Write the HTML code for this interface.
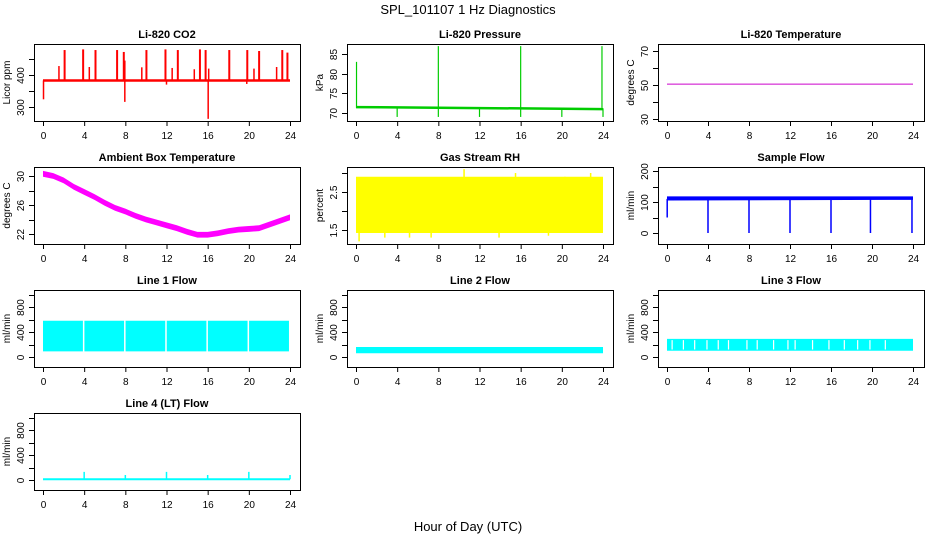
<!DOCTYPE html>
<html><head><meta charset="utf-8"><style>
body{margin:0;background:#fff}
svg{display:block;font-family:"Liberation Sans",Arial,sans-serif}
</style></head><body>
<svg id="c" width="936" height="540" viewBox="0 0 936 540">
<text x="468" y="14" text-anchor="middle" font-size="13">SPL_101107  1 Hz Diagnostics</text>
<text x="468" y="531" text-anchor="middle" font-size="13">Hour of Day (UTC)</text>
</svg>
<script>
// ---- data arrays ----
const hourTicks=[0,4,8,12,16,20,24];
const co2Base=383;
const co2SpikeHours=[2.1,3.9,5.1,7.2,7.85,10.05,11.9,13.1,15.25,15.8,18.1,19.85,21.0,23.25,23.75];
const co2SpikePeaks=[478,480,478,478,472,478,480,478,480,478,478,478,475,478,470];
const co2MidHours=[1.55,4.5,9.6,12.55,14.7,20.5,22.7,7.95,16.1];
const co2MidPeaks=[428,425,424,422,418,420,425,445,420];
const co2DipHours=[0.05,7.95,16.05,12.0,19.8];
const co2DipValues=[324,316,263,370,372];
const presHours=[0,24];
const presBase=[71.5,71.0];
const presUpHours=[0.05,8,16,23.9];
const presUpPeaks=[83,87,87,87];
const presDownHours=[4,8,12,16,20,24];
const presDownValues=[69,69,69,69,69,69];
const tempLevel=50.5;
const ambHours=[0,1,2,3,4,5,6,7,8,9,10,11,12,13,14,15,16,17,18,19,20,21,22,23,24];
const ambTemp=[30.3,30.0,29.4,28.5,27.8,27.1,26.3,25.6,25.1,24.5,24.0,23.6,23.2,22.8,22.3,21.9,21.9,22.1,22.4,22.6,22.7,22.8,23.3,23.8,24.3];
const rhLow=1.42, rhHigh=2.9;
const rhSpikeHours=[0.3,2.8,5.2,7.3,10.5,13.9,15.5,18.7,20.3,22.8];
const rhSpikeValues=[1.2,1.3,1.3,1.3,3.1,1.3,3.0,1.35,2.9,3.0];
const flowHours=[0,24];
const sampleLow=[105,107], sampleHigh=[118,118];
const sampleDropHours=[4,8,12,16,19.85,23.9];
const line1Low=90, line1High=580;
const line1GapHours=[3.95,7.95,11.95,15.95,19.95];
const line2Low=60, line2High=160;
const line3Low=100, line3High=290;
const line3GapHours=[0.5,1.6,2.7,3.9,5.0,6.0,7.8,8.8,10.4,11.8,12.5,14.2,15.8,17.3,18.6,19.8,21.3];
const line4Base=12;
const line4SpikeHours=[4,8,12,16,20,24];
const line4SpikeValues=[130,80,130,80,130,80];

// ---- layout ----
const NS="http://www.w3.org/2000/svg";
const svg=document.getElementById('c');
const cols=[{bx:34,t0:43,t1:290},{bx:347,t0:356,t1:603},{bx:658,t0:667,t1:913}];
const rows=[44,167,290,413];
const BW=266,BH=77;
function el(tag,attrs,parent){const e=document.createElementNS(NS,tag);for(const k in attrs)e.setAttribute(k,attrs[k]);(parent||svg).appendChild(e);return e;}
let clipId=0;
function panel(ci,ri,title,ylab,v0,o0,v1,o1,ticks,labels,color,name){
  const c=cols[ci],top=rows[ri];
  const g=el('g',{});
  
  
  const xs=h=>c.t0+(c.t1-c.t0)*h/24;
  const ys=v=>top+o0+(v-v0)*(o1-o0)/(v1-v0);
  const t=el('text',{x:c.bx+BW/2,y:top-6,'text-anchor':'middle','font-size':11,'font-weight':'bold'},g);
  t.textContent=title;
  
  
  const id='cl'+(clipId++);
  const cp=el('clipPath',{id:id},g);el('rect',{x:c.bx,y:top,width:BW,height:BH},cp);
  const plot=el('g',{'clip-path':'url(#'+id+')'},g);
  
  
  // x axis
  const xa=el('g',{stroke:'#000','stroke-width':1},g);
  
  
  el('line',{x1:xs(0),x2:xs(24),y1:top+BH+0.5,y2:top+BH+0.5},xa);
  hourTicks.forEach(h=>{
    el('line',{x1:xs(h)+0.5,x2:xs(h)+0.5,y1:top+BH,y2:top+BH+5},xa);
    const tl=el('text',{x:xs(h)+0.5,y:top+BH+18,'text-anchor':'middle','font-size':10,stroke:'none'},g);
    tl.textContent=h;
    
    
  });
  // y axis
  const ya=el('g',{stroke:'#000'},g);
  
  
  el('line',{x1:c.bx+0.5,x2:c.bx+0.5,y1:ys(ticks[0]),y2:ys(ticks[ticks.length-1])},ya);
  ticks.forEach((v,i)=>{
    const y=Math.round(ys(v))+0.5;
    el('line',{x1:c.bx-5,x2:c.bx,y1:y,y2:y},ya);
    if(labels[i]){const tl=el('text',{x:0,y:0,'text-anchor':'middle','font-size':10,transform:`translate(${c.bx-10},${y}) rotate(-90)`},g);
      tl.textContent=labels[i];
      
      }
  });
  const yl=el('text',{x:0,y:0,'text-anchor':'middle','font-size':10,transform:`translate(${c.bx-24},${top+BH/2}) rotate(-90)`},g);
  yl.textContent=ylab;
  
  
  el('rect',{x:c.bx+0.5,y:top+0.5,width:BW,height:BH,fill:'none',stroke:'#000'},g);
  return {plot,xs,ys,color};
}
function vline(p,h,a,b,w){el('line',{x1:p.xs(h),x2:p.xs(h),y1:p.ys(a),y2:p.ys(b),stroke:p.color,'stroke-width':w||1.5},p.plot);}
function band(p,hs,lo,hi){
  let pts=hs.map((h,i)=>p.xs(h)+','+p.ys(hi[i]));
  for(let i=hs.length-1;i>=0;i--)pts.push(p.xs(hs[i])+','+p.ys(lo[i]));
  el('polygon',{points:pts.join(' '),fill:p.color},p.plot);
}

// CO2
let p=panel(0,0,'Li-820 CO2','Licor ppm',300,63,400,31,[300,350,400,450],['300','','400',''],'#ff0000','co2');
el('line',{x1:p.xs(0),x2:p.xs(24),y1:p.ys(co2Base),y2:p.ys(co2Base),stroke:p.color,'stroke-width':2.5},p.plot);
co2SpikeHours.forEach((h,i)=>vline(p,h,co2Base,co2SpikePeaks[i],2));
co2MidHours.forEach((h,i)=>vline(p,h,co2Base,co2MidPeaks[i],1.5));
co2DipHours.forEach((h,i)=>vline(p,h,co2Base,co2DipValues[i],1.5));
// Pressure
p=panel(1,0,'Li-820 Pressure','kPa',70,69,85,10,[70,75,80,85],['70','75','80','85'],'#00cc00','pressure');
el('line',{x1:p.xs(presHours[0]),x2:p.xs(presHours[1]),y1:p.ys(presBase[0]),y2:p.ys(presBase[1]),stroke:p.color,'stroke-width':2.5},p.plot);
presUpHours.forEach((h,i)=>vline(p,h,71.3,presUpPeaks[i],1.2));
presDownHours.forEach((h,i)=>vline(p,h,71.2,presDownValues[i],1.2));
// Temperature
p=panel(2,0,'Li-820 Temperature','degrees C',30,75,70,7,[30,40,50,60,70],['30','','50','','70'],'#cc00cc','li820-temp');
el('line',{x1:p.xs(0),x2:p.xs(24),y1:p.ys(tempLevel),y2:p.ys(tempLevel),stroke:'#cc00cc','stroke-width':1},p.plot);
// Ambient
p=panel(0,1,'Ambient Box Temperature','degrees C',30,9,22,67,[22,24,26,28,30],['22','','26','','30'],'#ff00ff','ambient-temp');
band(p,ambHours,ambTemp.map(v=>v-0.4),ambTemp.map(v=>v+0.4));
// RH
p=panel(1,1,'Gas Stream RH','percent',2.5,25,1.5,63,[1.5,2,2.5,3],['1.5','','2.5',''],'#ffff00','gas-rh');
band(p,flowHours,[rhLow,rhLow],[rhHigh,rhHigh]);
rhSpikeHours.forEach((h,i)=>vline(p,h,2.2,rhSpikeValues[i],1.5));
// Sample flow
p=panel(2,1,'Sample Flow','ml/min',200,4,0,66,[0,50,100,150,200],['0','','100','','200'],'#0000ff','sample-flow');
band(p,flowHours,sampleLow,sampleHigh);
vline(p,0.02,50,110,1.5);
sampleDropHours.forEach(h=>vline(p,h,110,0,1.5));
// Line flows
const lt=[0,200,400,600,800,1000],ll=['0','','400','','800',''];
p=panel(0,2,'Line 1 Flow','ml/min',0,67,800,17,lt,ll,'#00ffff','line1-flow');
band(p,[0,23.9],[line1Low,line1Low],[line1High,line1High]);
line1GapHours.forEach(h=>el('line',{x1:p.xs(h),x2:p.xs(h),y1:p.ys(line1Low-20),y2:p.ys(line1High+20),stroke:'#fff','stroke-width':1.5},p.plot));
p=panel(1,2,'Line 2 Flow','ml/min',0,67,800,17,lt,ll,'#00ffff','line2-flow');
band(p,[0,24],[line2Low,line2Low],[line2High,line2High]);
p=panel(2,2,'Line 3 Flow','ml/min',0,67,800,17,lt,ll,'#00ffff','line3-flow');
band(p,[0,24],[line3Low,line3Low],[line3High,line3High]);
line3GapHours.forEach(h=>el('line',{x1:p.xs(h),x2:p.xs(h),y1:p.ys(line3Low+20),y2:p.ys(line3High-20),stroke:'#fff','stroke-width':1.2},p.plot));
p=panel(0,3,'Line 4 (LT) Flow','ml/min',0,67,800,17,lt,ll,'#00ffff','line4-flow');
el('line',{x1:p.xs(0),x2:p.xs(24),y1:p.ys(line4Base),y2:p.ys(line4Base),stroke:p.color,'stroke-width':2},p.plot);
line4SpikeHours.forEach((h,i)=>vline(p,h,line4Base,line4SpikeValues[i],1.5));
</script>
</body></html>
